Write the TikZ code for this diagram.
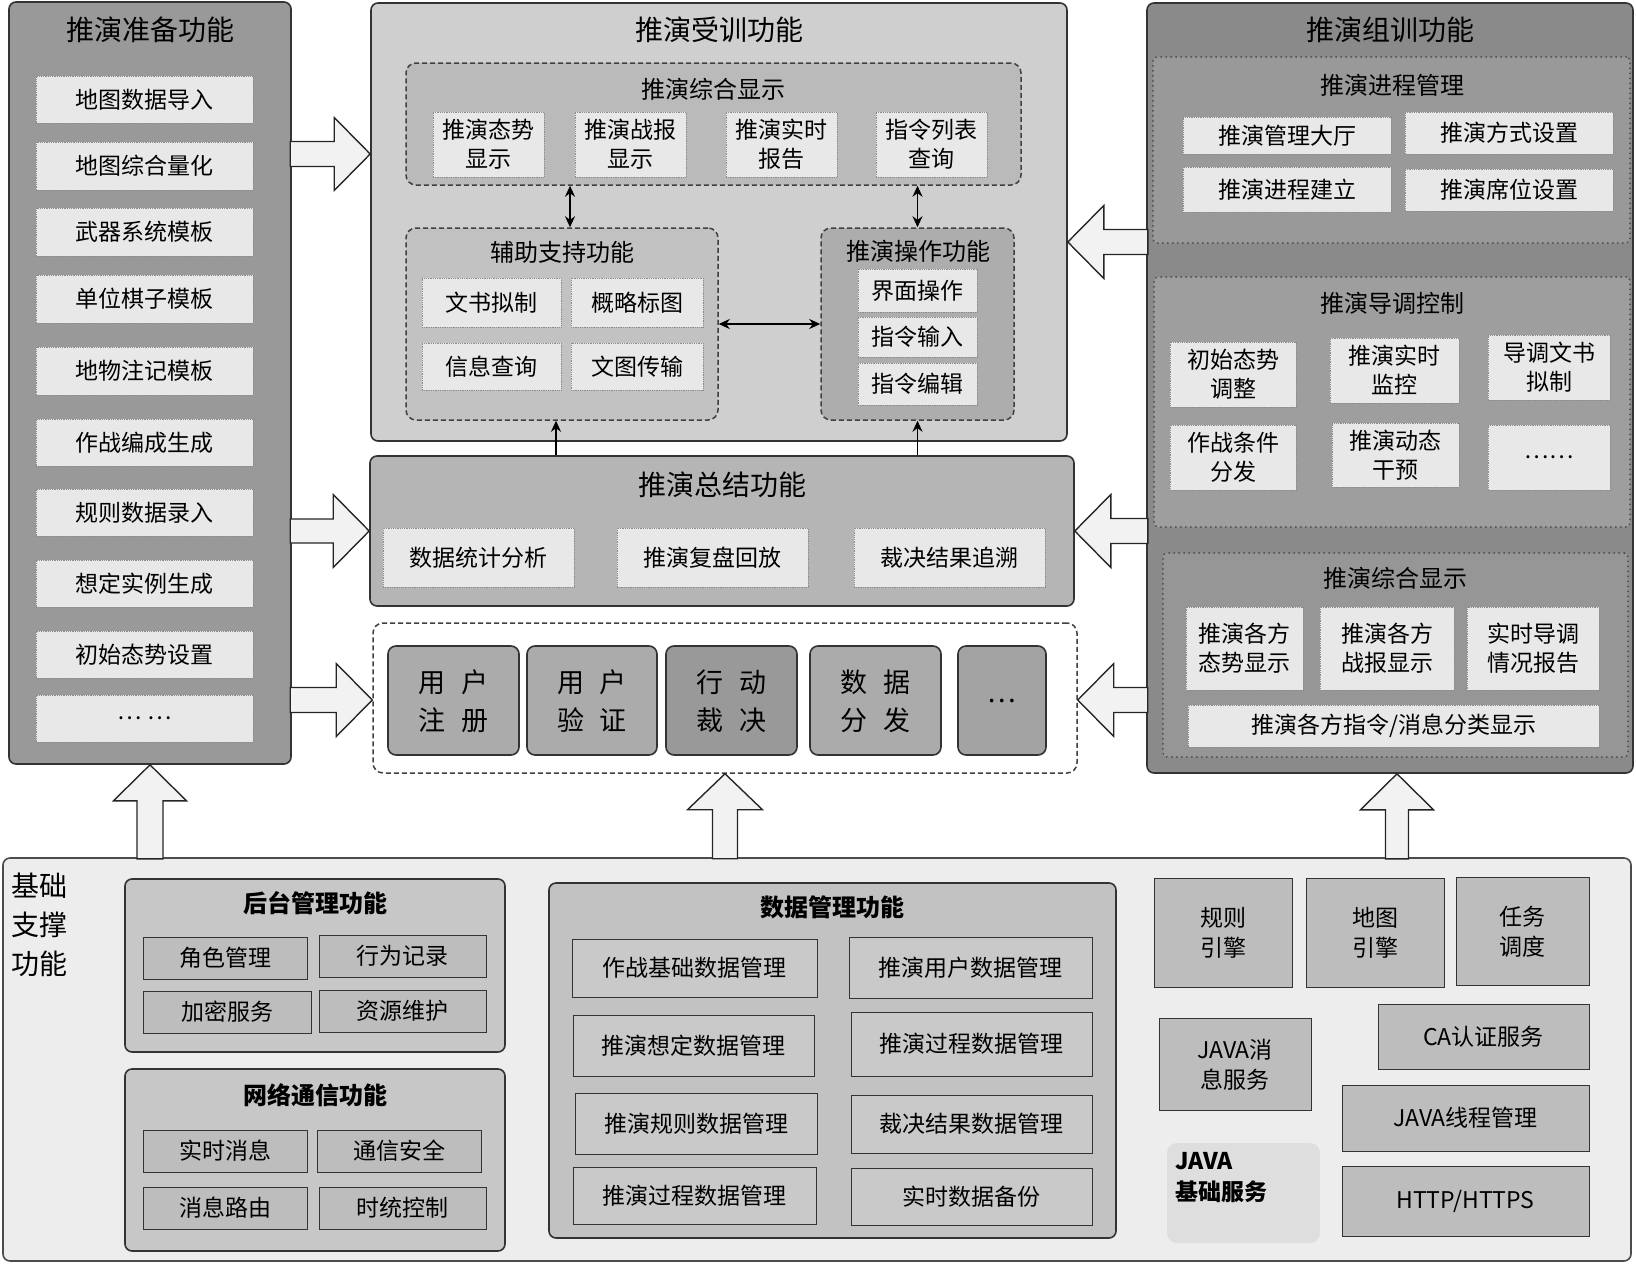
\documentclass[tikz,border=0pt]{standalone}
\usepackage{fontspec}
\setmainfont{Noto Sans CJK SC}
\usetikzlibrary{arrows.meta}

\tikzset{
  span/.style n args={4}{at={({(#1+#3)/2},{(#2+#4)/2})}, minimum width={#3-#1}, minimum height={#4-#2}},
  panel/.style={draw=black!80, line width=1.6pt, rounded corners=7pt, inner sep=0pt},
  dashbox/.style={draw=black!75, line width=1.5pt, dash pattern=on 5pt off 3pt, rounded corners=10pt, inner sep=0pt},
  dotbox/.style={draw=black!70, line width=2pt, line cap=round, dash pattern=on 0pt off 5pt, rounded corners=4pt, inner sep=0pt},
  item/.style={fill=black!9, draw=black!45, densely dotted, line width=0.8pt, inner sep=0pt, font=\fontsize{23}{29}\selectfont},
  bigitem/.style={fill=black!33, draw=black!80, line width=1.6pt, rounded corners=8pt, inner sep=0pt, font=\fontsize{27}{38}\selectfont},
  baseitem/.style={fill=black!26, draw=black!80, line width=1pt, inner sep=0pt, font=\fontsize{23}{30}\selectfont},
  ttl/.style={font=\fontsize{28}{32}\selectfont},
  subttl/.style={font=\fontsize{24}{28}\selectfont},
  bttl/.style={font=\fontsize{24}{28}\selectfont\bfseries},
  bigarrow/.style={draw=black!85, fill=black!5, line width=1.4pt, line join=miter},
  link/.style={{Stealth[length=11pt,width=10pt]}-{Stealth[length=11pt,width=10pt]}, line width=1.8pt},
  uplink/.style={-{Stealth[length=11pt,width=10pt]}, line width=1.8pt}
}

% two centred lines
\newcommand{\twoline}[2]{\raisebox{0pt}[\height][\dimexpr\depth-6pt\relax]{\begin{tabular}{@{}c@{}}#1\\#2\end{tabular}}}

% tip, angle, length, shaft width, head width
\newcommand{\fatarrow}[5]{%
  \draw[bigarrow, shift={#1}, rotate=#2] (0,0) -- (-36,{#5/2}) -- (-36,{#4/2}) -- (-#3,{#4/2})
    -- (-#3,{-#4/2}) -- (-36,{-#4/2}) -- (-36,{-#5/2}) -- cycle;}

\begin{document}
\begin{tikzpicture}[x=1pt,y=-1pt]
    \useasboundingbox (0,0) rectangle (1636,1264);

    % preparation
    \node[panel, fill=black!40, span={9}{2}{291}{764}] (prep) {};
    \node[ttl] (prept) at (150,30) {推演准备功能};
    \node[item, span={36}{76}{253}{123}] (prep1) {地图数据导入};
    \node[item, span={36}{142}{253}{190}] (prep2) {地图综合量化};
    \node[item, span={36}{208}{253}{256}] (prep3) {武器系统模板};
    \node[item, span={36}{275}{253}{323}] (prep4) {单位棋子模板};
    \node[item, span={36}{347}{253}{395}] (prep5) {地物注记模板};
    \node[item, span={36}{419}{253}{466}] (prep6) {作战编成生成};
    \node[item, span={36}{489}{253}{536}] (prep7) {规则数据录入};
    \node[item, span={36}{560}{253}{607}] (prep8) {想定实例生成};
    \node[item, span={36}{631}{253}{678}] (prep9) {初始态势设置};
    \node[item, span={36}{695}{253}{742}] (prep10) {… …};

    % training
    \node[panel, fill=black!19, span={371}{3}{1067}{441}] (train) {};
    \node[ttl] (traint) at (719,30) {推演受训功能};
    \node[dashbox, fill=black!27, span={406}{63}{1021}{185}] (disp) {};
    \node[subttl] (dispt) at (713,89) {推演综合显示};
    \node[item, span={433}{112}{544}{177}] (disp1) {\twoline{推演态势}{显示}};
    \node[item, span={575}{112}{686}{177}] (disp2) {\twoline{推演战报}{显示}};
    \node[item, span={726}{112}{837}{177}] (disp3) {\twoline{推演实时}{报告}};
    \node[item, span={876}{112}{987}{177}] (disp4) {\twoline{指令列表}{查询}};

    \node[dashbox, fill=black!24, span={406}{228}{718}{420}] (aux) {};
    \node[subttl] (auxt) at (562,252) {辅助支持功能};
    \node[item, span={422}{278}{561}{327}] (aux1) {文书拟制};
    \node[item, span={571}{278}{703}{327}] (aux2) {概略标图};
    \node[item, span={422}{343}{561}{390}] (aux3) {信息查询};
    \node[item, span={571}{343}{703}{390}] (aux4) {文图传输};

    \node[dashbox, fill=black!32, span={821}{228}{1014}{420}] (oper) {};
    \node[subttl] (opert) at (918,251) {推演操作功能};
    \node[item, span={858}{269}{977}{312}] (oper1) {界面操作};
    \node[item, span={858}{317}{977}{357}] (oper2) {指令输入};
    \node[item, span={858}{363}{977}{405}] (oper3) {指令编辑};

    \draw[link] ([xshift=8]aux.north |- disp.south) -- ([xshift=8]aux.north);
    \draw[link] (oper.north |- disp.south) -- (oper.north);
    \draw[link] (aux.east) -- (oper.west);

    % summary
    \node[panel, fill=black!29, span={370}{456}{1074}{606}] (summ) {};
    \node[ttl] (summt) at (722,485) {推演总结功能};
    \node[item, span={383}{528}{574}{587}] (summ1) {数据统计分析};
    \node[item, span={617}{528}{808}{587}] (summ2) {推演复盘回放};
    \node[item, span={854}{528}{1045}{587}] (summ3) {裁决结果追溯};

    \draw[uplink] ([xshift=-6]aux.south |- summ.north) -- ([xshift=-6]aux.south);
    \draw[uplink] (oper.south |- summ.north) -- (oper.south);

    % common services
    \node[dashbox, fill=white, span={373}{623}{1077}{773}] (misc) {};
    \node[bigitem, span={388}{646}{519}{755}] (reg) {\twoline{用\hspace{16pt}户}{注\hspace{16pt}册}};
    \node[bigitem, span={527}{646}{657}{755}] (auth) {\twoline{用\hspace{16pt}户}{验\hspace{16pt}证}};
    \node[bigitem, fill=black!40, span={666}{646}{797}{755}] (judge) {\twoline{行\hspace{16pt}动}{裁\hspace{16pt}决}};
    \node[bigitem, span={810}{646}{941}{755}] (dist) {\twoline{数\hspace{16pt}据}{分\hspace{16pt}发}};
    \node[bigitem, fill=black!36, span={958}{646}{1046}{755}] (more) {…};

    % organisation
    \node[panel, fill=black!46, span={1147}{3}{1633}{773}] (org) {};
    \node[ttl] (orgt) at (1390,30) {推演组训功能};
    \node[dotbox, fill=black!40, span={1153}{57}{1630}{243}] (proc) {};
    \node[subttl] (proct) at (1392,85) {推演进程管理};
    \node[item, span={1183}{117}{1391}{154}] (proc1) {推演管理大厅};
    \node[item, span={1405}{112}{1613}{154}] (proc2) {推演方式设置};
    \node[item, span={1183}{167}{1391}{212}] (proc3) {推演进程建立};
    \node[item, span={1405}{169}{1613}{211}] (proc4) {推演席位设置};

    \node[dotbox, fill=black!38, span={1154}{277}{1630}{527}] (ctrl) {};
    \node[subttl] (ctrlt) at (1392,303) {推演导调控制};
    \node[item, span={1170}{342}{1296}{407}] (ctrl1) {\twoline{初始态势}{调整}};
    \node[item, span={1330}{338}{1459}{403}] (ctrl2) {\twoline{推演实时}{监控}};
    \node[item, span={1488}{335}{1610}{400}] (ctrl3) {\twoline{导调文书}{拟制}};
    \node[item, span={1170}{425}{1296}{490}] (ctrl4) {\twoline{作战条件}{分发}};
    \node[item, span={1332}{423}{1459}{487}] (ctrl5) {\twoline{推演动态}{干预}};
    \node[item, span={1488}{425}{1610}{490}] (ctrl6) {……};

    \node[dotbox, fill=black!41, span={1163}{553}{1628}{757}] (view) {};
    \node[subttl] (viewt) at (1395,578) {推演综合显示};
    \node[item, span={1186}{607}{1303}{690}] (view1) {\twoline{推演各方}{态势显示}};
    \node[item, span={1320}{607}{1454}{690}] (view2) {\twoline{推演各方}{战报显示}};
    \node[item, span={1467}{607}{1599}{690}] (view3) {\twoline{实时导调}{情况报告}};
    \node[item, span={1188}{705}{1599}{747}] (view4) {推演各方指令/消息分类显示};

    % base support
    \node[panel, draw=black!70, fill=black!7, span={3}{858}{1631}{1261}] (base) {};
    \node[anchor=north west, align=left, inner sep=0pt, font=\fontsize{28}{39}\selectfont] (baset) at (11,873) {基础\\支撑\\功能};

    \node[panel, fill=black!22, span={125}{879}{505}{1052}] (admin) {};
    \node[bttl] (admint) at (315,903) {后台管理功能};
    \node[baseitem, span={143}{937}{307}{979}] (admin1) {角色管理};
    \node[baseitem, span={319}{935}{486}{977}] (admin2) {行为记录};
    \node[baseitem, span={143}{991}{311}{1033}] (admin3) {加密服务};
    \node[baseitem, span={319}{990}{486}{1032}] (admin4) {资源维护};

    \node[panel, fill=black!22, span={125}{1069}{505}{1251}] (net) {};
    \node[bttl] (nett) at (315,1095) {网络通信功能};
    \node[baseitem, span={143}{1130}{307}{1172}] (net1) {实时消息};
    \node[baseitem, span={317}{1130}{481}{1172}] (net2) {通信安全};
    \node[baseitem, span={143}{1187}{307}{1229}] (net3) {消息路由};
    \node[baseitem, span={319}{1187}{486}{1229}] (net4) {时统控制};

    \node[panel, fill=black!24, span={549}{883}{1116}{1238}] (data) {};
    \node[bttl] (datat) at (832,907) {数据管理功能};
    \node[baseitem, fill=black!21, span={572}{939}{817}{997}] (data1) {作战基础数据管理};
    \node[baseitem, fill=black!21, span={573}{1015}{814}{1076}] (data2) {推演想定数据管理};
    \node[baseitem, fill=black!21, span={575}{1093}{817}{1154}] (data3) {推演规则数据管理};
    \node[baseitem, fill=black!21, span={573}{1167}{816}{1224}] (data4) {推演过程数据管理};
    \node[baseitem, fill=black!21, span={849}{937}{1092}{998}] (data5) {推演用户数据管理};
    \node[baseitem, fill=black!21, span={851}{1012}{1092}{1076}] (data6) {推演过程数据管理};
    \node[baseitem, fill=black!21, span={851}{1095}{1092}{1153}] (data7) {裁决结果数据管理};
    \node[baseitem, fill=black!21, span={851}{1168}{1092}{1225}] (data8) {实时数据备份};

    \node[baseitem, span={1154}{878}{1292}{987}] (rule) {\twoline{规则}{引擎}};
    \node[baseitem, span={1306}{878}{1444}{987}] (mapeng) {\twoline{地图}{引擎}};
    \node[baseitem, span={1456}{877}{1589}{985}] (task) {\twoline{任务}{调度}};
    \node[baseitem, span={1159}{1018}{1311}{1110}] (jmsg) {\twoline{JAVA消}{息服务}};
    \node[baseitem, span={1378}{1004}{1589}{1069}] (ca) {CA认证服务};
    \node[baseitem, span={1342}{1085}{1589}{1151}] (thread) {JAVA线程管理};
    \node[baseitem, span={1342}{1166}{1589}{1236}] (http) {HTTP/HTTPS};
    \node[fill=black!13, rounded corners=10pt, inner sep=0pt, span={1167}{1143}{1320}{1243}] (jbase) {};
    \node[anchor=north west, align=left, inner sep=0pt, font=\fontsize{23}{31}\selectfont\bfseries] (jbaset) at (1175,1152) {JAVA\\基础服务};

    % big arrows
    \coordinate (ya) at (0,154);
    \coordinate (yb) at (0,531);
    \coordinate (yc) at (0,700);
    \coordinate (yd) at (0,242);
    \fatarrow{(train.west |- ya)}{0}{80}{25}{73}
    \fatarrow{(summ.west |- yb)}{0}{79}{24}{73}
    \fatarrow{(misc.west |- yc)}{0}{82}{25}{73}
    \fatarrow{(train.east |- yd)}{180}{80}{25}{73}
    \fatarrow{(summ.east |- yb)}{180}{73}{25}{73}
    \fatarrow{(misc.east |- yc)}{180}{70}{25}{73}
    \fatarrow{(prep.south)}{90}{94}{26}{73}
    \fatarrow{(misc.south)}{90}{85}{25}{75}
    \fatarrow{([xshift=7]org.south)}{90}{85}{23}{73}

\end{tikzpicture}
\end{document}
